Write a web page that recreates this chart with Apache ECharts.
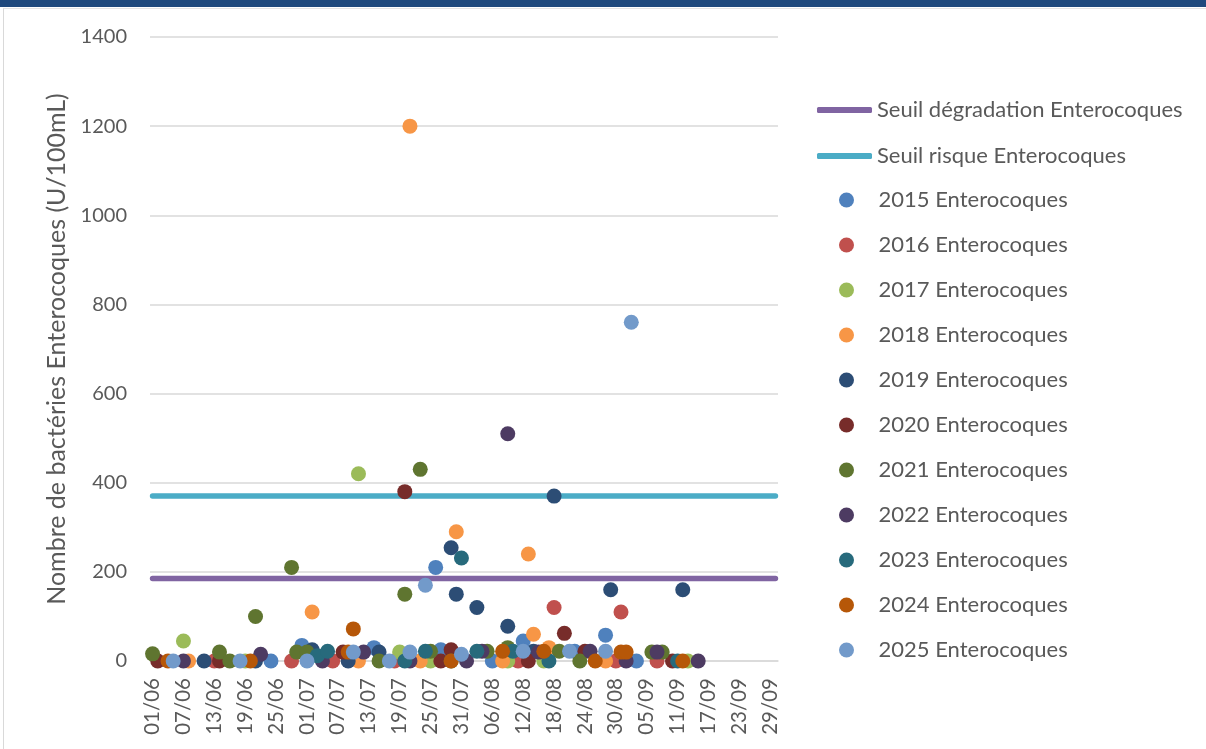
<!DOCTYPE html>
<html><head><meta charset="utf-8">
<script src="https://cdn.jsdelivr.net/npm/echarts@6/dist/echarts.min.js"></script>
<style>
html,body{margin:0;padding:0;background:#fff;overflow:hidden;}
#topbar{position:absolute;left:0;top:0;width:1206px;height:7px;background:#1F497D;}
#frame{position:absolute;left:3px;top:8px;width:1220px;height:760px;border-left:1px solid #d9d9d9;border-top:1px solid #e4e4e4;}
#chart{position:absolute;left:0;top:0;width:1206px;height:749px;}
</style></head><body>
<div id="topbar"></div><div id="frame"></div><div id="chart"></div>
<script>
// Category axis: days from 01/06 to 30/09
const monthDays = {6:30, 7:31, 8:31, 9:30};
const categories = [];
for (let m = 6; m <= 9; m++) for (let d = 1; d <= monthDays[m]; d++)
  categories.push(String(d).padStart(2,'0') + '/' + String(m).padStart(2,'0'));

const seuilDegradation = 185;
const seuilRisque = 370;

const y2015 = [['24/06',0],['30/06',35],['14/07',30],['26/07',210],['27/07',25],['06/08',0],['12/08',45],['22/08',22],['28/08',58],['03/09',0]];
const y2016 = [['13/06',0],['28/06',0],['06/07',0],['18/07',0],['11/08',0],['18/08',120],['30/08',0],['31/08',110],['07/09',0]];
const y2017 = [['07/06',45],['19/06',0],['11/07',420],['19/07',20],['25/07',0],['09/08',0],['16/08',0],['13/09',0]];
const y2018 = [['08/06',0],['02/07',110],['11/07',0],['21/07',1200],['23/07',0],['30/07',290],['08/08',0],['13/08',240],['14/08',60],['17/08',30],['28/08',0]];
const y2019 = [['11/06',0],['21/06',0],['02/07',25],['09/07',0],['15/07',20],['29/07',254],['30/07',150],['03/08',120],['09/08',78],['14/08',22],['18/08',370],['29/08',160],['12/09',160]];
const y2020 = [['02/06',0],['14/06',0],['08/07',20],['20/07',380],['27/07',0],['29/07',25],['13/08',0],['20/08',62],['24/08',22],['10/09',0]];
const y2021 = [['01/06',16],['14/06',20],['16/06',0],['21/06',100],['28/06',210],['29/06',20],['01/07',20],['15/07',0],['20/07',150],['23/07',430],['25/07',22],['29/07',0],['05/08',22],['09/08',30],['19/08',22],['23/08',0],['06/09',20],['08/09',20]];
const y2022 = [['07/06',0],['22/06',15],['04/07',0],['12/07',20],['21/07',0],['01/08',0],['04/08',22],['09/08',510],['15/08',20],['25/08',22],['01/09',0],['07/09',20],['15/09',0]];
const y2023 = [['03/07',12],['05/07',22],['20/07',0],['24/07',22],['31/07',231],['03/08',22],['10/08',22],['17/08',0],['11/09',0]];
const y2024 = [['04/06',0],['20/06',0],['09/07',20],['10/07',72],['29/07',0],['08/08',22],['16/08',22],['26/08',0],['31/08',20],['01/09',20],['12/09',0]];
const y2025 = [['05/06',0],['18/06',0],['01/07',0],['10/07',20],['17/07',0],['21/07',20],['24/07',170],['31/07',15],['12/08',22],['21/08',22],['28/08',22],['02/09',760]];

const years = ['2015','2016','2017','2018','2019','2020','2021','2022','2023','2024','2025'];
const yearData = [y2015,y2016,y2017,y2018,y2019,y2020,y2021,y2022,y2023,y2024,y2025];
const yearColors = ['#4F81BD','#C0504D','#9BBB59','#F79646','#2C4D75','#772C2A','#5F7530','#4D3B62','#276A7C','#B65708','#729ACA'];
const lineNames = ['Seuil dégradation Enterocoques','Seuil risque Enterocoques'];
const lineValues = [seuilDegradation, seuilRisque];
const lineColors = ['#8064A2','#4BACC6'];

const FONT = 'Lato';
const TXT = '#595959';
const first = categories[0], last = categories[categories.length-1];

const series = [];
lineNames.forEach((n,i) => series.push({
  name:n, type:'line', symbol:'none', silent:true,
  data:[[first,lineValues[i]],[last,lineValues[i]]],
  lineStyle:{color:lineColors[i], width:5.5, cap:'round'},
  itemStyle:{color:lineColors[i]}, z:1
}));
years.forEach((y,i) => series.push({
  name:y+' Enterocoques', type:'scatter', symbol:'circle', symbolSize:15,
  data:yearData[i], itemStyle:{color:yearColors[i], opacity:1}, z:2,
  emphasis:{disabled:true}
}));

const chart = echarts.init(document.getElementById('chart'));
chart.setOption({
  animation:false,
  grid:{left:150, top:37, width:628, height:624},
  xAxis:{type:'category', data:categories, boundaryGap:true,
    axisLine:{lineStyle:{color:'#d9d9d9', width:1.5}}, axisTick:{show:false},
    axisLabel:{interval:5, rotate:90, color:TXT, fontFamily:FONT, fontSize:20.5, margin:17},
    splitLine:{show:false}},
  yAxis:{type:'value', min:0, max:1400, interval:200,
    axisLine:{show:false}, axisTick:{show:false},
    axisLabel:{color:TXT, fontFamily:FONT, fontSize:20, margin:23, formatter:v => String(v)},
    splitLine:{lineStyle:{color:'#d9d9d9', width:1.5}},
    name:'Nombre de bactéries Enterocoques (U/100mL)', nameLocation:'middle', nameGap:80,
    nameTextStyle:{color:TXT, fontFamily:FONT, fontSize:25}},
  legend:[
    {data:lineNames, orient:'vertical', left:812, top:93, icon:'roundRect', itemWidth:55, itemHeight:6,
     itemGap:22, selectedMode:false, textStyle:{color:TXT, fontFamily:FONT, fontSize:22, lineHeight:24}},
    {data:years.map(y=>y+' Enterocoques'), orient:'vertical', left:834, top:183, icon:'circle', itemWidth:54, itemHeight:15,
     itemGap:21, selectedMode:false, textStyle:{color:TXT, fontFamily:FONT, fontSize:22, lineHeight:24}}
  ],
  series:series
});
</script>
</body></html>
